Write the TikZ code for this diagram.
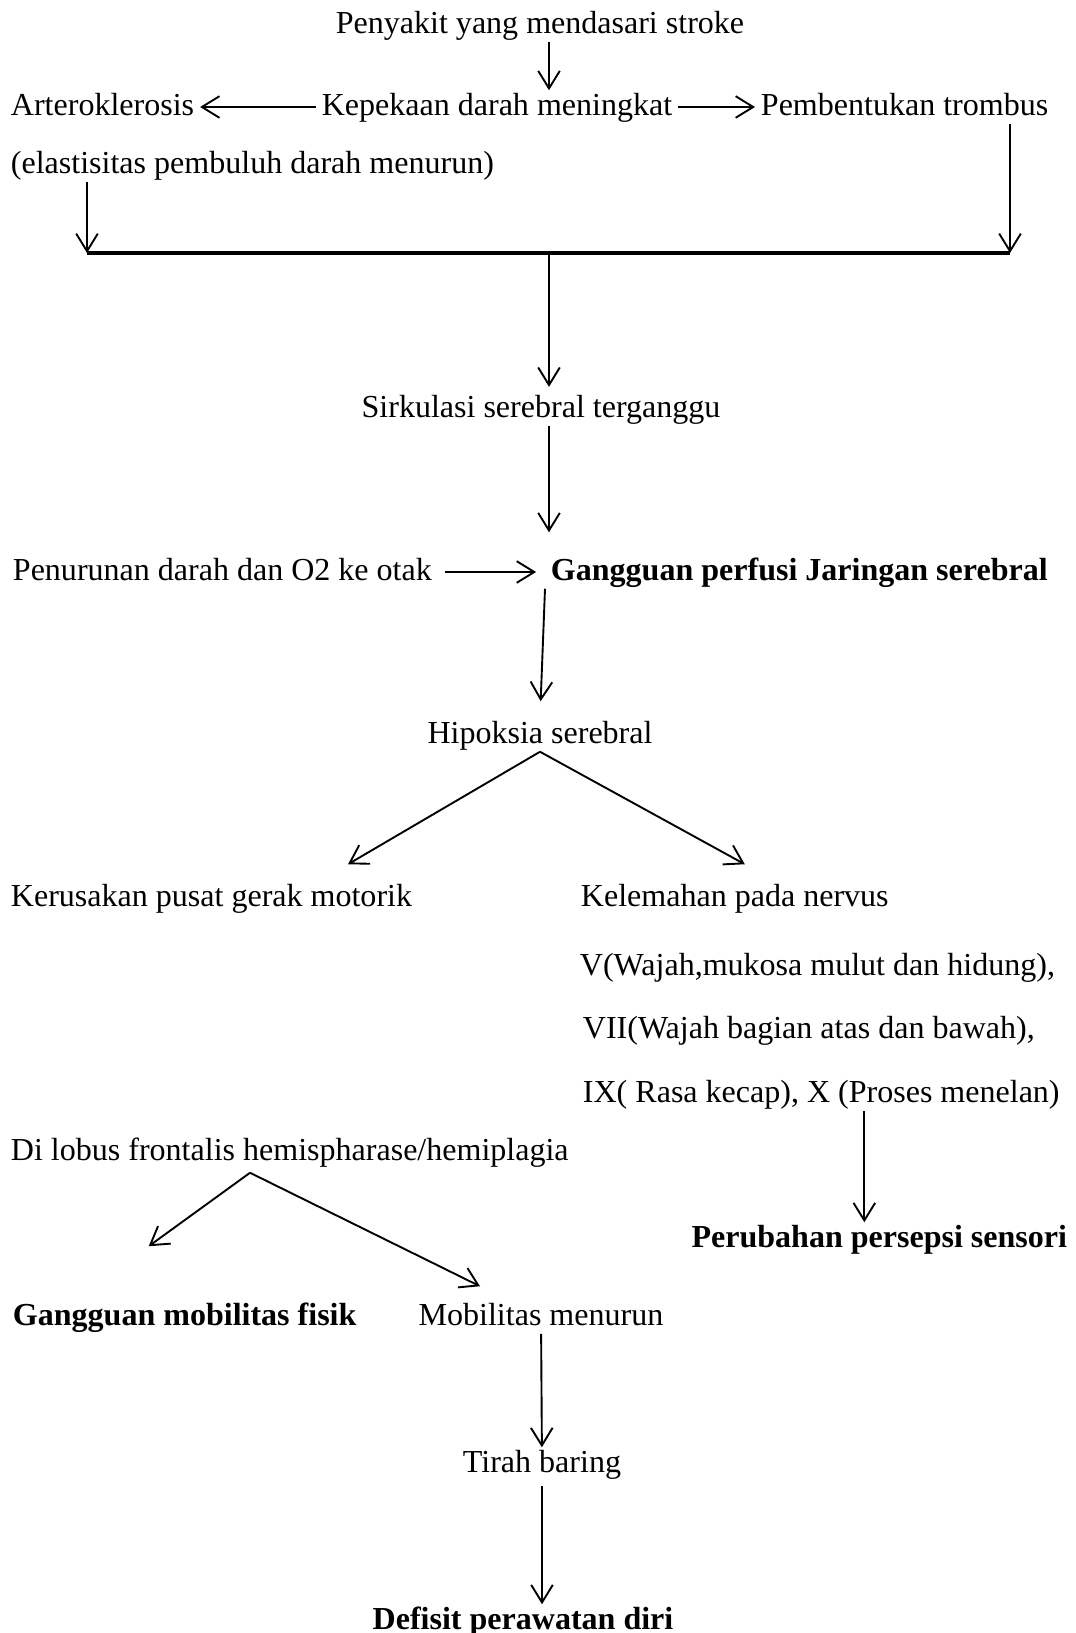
\documentclass[tikz,border=0pt]{standalone}
\usepackage{fontspec}
\setmainfont{Liberation Serif}
\usetikzlibrary{arrows.meta,calc}

\tikzset{
  txt/.style={inner xsep=2pt, inner ysep=0pt, text height=9pt, text depth=3pt, font=\fontsize{11.85}{14}\selectfont},
  lft/.style={txt, anchor=west},
  arr/.style={-{Straight Barb[length=6.5pt,width=8pt]}, line width=0.7pt},
  bar/.style={line width=1.2pt},
}

\begin{document}
\begin{tikzpicture}[x=0.37pt, y=-0.37pt]
\useasboundingbox (0,0) rectangle (1075,1633);
\node [txt] (penyakit) at (540,25) {Penyakit yang mendasari stroke};
\node [txt] (kepekaan) at (497,107) {Kepekaan darah meningkat};
\node [lft] (artero) at (5,107) {Arteroklerosis};
\node [lft] (pembentukan) at (755,107) {Pembentukan trombus};
\node [lft] (elastis) at (5,165) {(elastisitas pembuluh darah menurun)};
\coordinate (barL) at (87,253);
\coordinate (barR) at (1010,253);
\coordinate (barM) at (549,253);
\node [txt] (sirkulasi) at (541,409) {Sirkulasi serebral terganggu};
\node [lft] (penurunan) at (7,572) {Penurunan darah dan O2 ke otak};
\node [lft] (gperfusi) at (545,572) {\textbf{Gangguan perfusi Jaringan serebral}};
\node [txt] (hipoksia) at (540,735) {Hipoksia serebral};
\node [lft] (kerusakan) at (5,898) {Kerusakan pusat gerak motorik};
\node [lft] (nervus) at (575,898) {Kelemahan pada nervus};
\node [lft] (n5) at (574,967) {V(Wajah,mukosa mulut dan hidung),};
\node [lft] (n7) at (577,1030) {VII(Wajah bagian atas dan bawah),};
\node [lft] (n9) at (577,1094) {IX( Rasa kecap), X (Proses menelan)};
\node [txt, anchor=east] (perubahan) at (1073,1239) {\textbf{Perubahan persepsi sensori}};
\coordinate (pn) at ($(perubahan.north)+(-15,0)$);
\node [lft] (dilobus) at (5,1152) {Di lobus frontalis hemispharase/hemiplagia};
\coordinate (fork) at ($(dilobus.south west)+(245,4)$);
\node [lft] (gfisik) at (7,1317) {\textbf{Gangguan mobilitas fisik}};
\node [txt] (mobilitas) at (541,1317) {Mobilitas menurun};
\node [txt] (tirah) at (542,1464) {Tirah baring};
\node [txt] (defisit) at (523,1621) {\textbf{Defisit perawatan diri}};

\draw [arr] (penyakit.south -| barM) -- (kepekaan.north -| barM);
\draw [arr] (kepekaan) -- (artero);
\draw [arr] (kepekaan) -- (pembentukan);
\draw [arr] (elastis.south -| barL) -- (barL);
\draw [arr] (pembentukan.south -| barR) -- (barR);
\draw [bar] (barL) -- (barR);
\draw [arr, shorten >=2pt] (barM) -- (sirkulasi.north -| barM);
\draw [arr, shorten >=8.5pt] (sirkulasi.south -| barM) -- (gperfusi.north -| barM);
\draw [arr, shorten <=2.6pt, shorten >=3.3pt] (penurunan) -- (gperfusi);
\draw [arr, shorten >=6.3pt] (gperfusi.south west) -- (hipoksia.north);
\draw [arr] (hipoksia.south) -- ($(kerusakan.north east)+(-70,-17)$);
\draw [arr] (hipoksia.south) -- ($(nervus.north)+(10,-17)$);
\draw [arr] (n9.south -| pn) -- (pn);
\draw [arr] (fork) -- ($(gfisik.north)+(-36,-54)$);
\draw [arr] (fork) -- ($(mobilitas.north)+(-61,-14)$);
\draw [arr] (mobilitas) -- (tirah);
\draw [arr, shorten <=2pt] (tirah) -- (defisit.north -| tirah.south);
\end{tikzpicture}
\end{document}
